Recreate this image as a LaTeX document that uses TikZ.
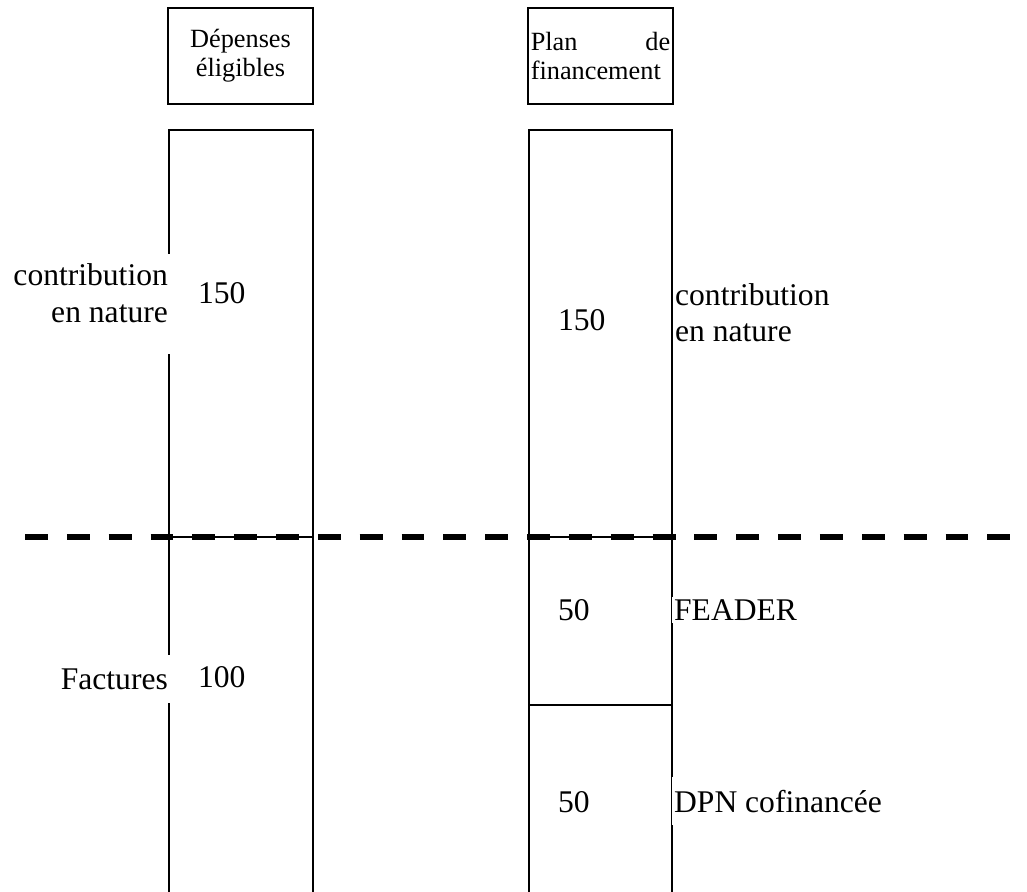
\documentclass[tikz,border=0pt]{standalone}
\usepackage{fontspec}
\setmainfont{Liberation Serif}

\begin{document}
\begin{tikzpicture}[x=0.38pt,y=-0.38pt,
  colline/.style={line width=0.8pt},
  sepline/.style={line width=0.6pt},
  headbox/.style={draw,line width=0.5pt,minimum width=55.1pt,minimum height=36.5pt,
    text width=53pt,inner xsep=1pt,font=\fontsize{10}{11}\selectfont},
  txt/.style={font=\fontsize{12}{14}\selectfont,inner sep=1pt},
  gap/.style={txt,fill=white}]
\useasboundingbox (0,0) rectangle (1027,892);

% header boxes
\node[headbox,align=center] (hdep) at (240.5,56) {Dépenses\\éligibles};
\node[headbox,align=left] (hplan) at (600.5,56) {Plan\hfill de\\financement};

% columns
\draw[colline] (169,892)--(169,130)--(313,130)--(313,892);
\draw[colline] (529,892)--(529,130)--(672,130)--(672,892);
\draw[sepline] (169,537)--(313,537);
\draw[sepline] (529,537)--(672,537);
\draw[sepline] (529,705)--(672,705);

% limit line
\coordinate (limL) at (25,537);
\coordinate (limR) at (1027,537);
\draw[line width=2.3pt,dash pattern=on 8.7pt off 7.2pt] (limL)--(limR);

% left column
\node[gap,align=right,anchor=north east,inner ysep=4pt,text depth=8pt] (lnat) at (171,253) {contribution\\en nature};
\node[txt,anchor=base west] (l150) at (195,303) {150};
\node[gap,anchor=east,inner ysep=5pt] (lfac) at (171,679) {Factures};
\node[txt,anchor=base west] (l100) at (195,687) {100};

% right column
\node[txt,anchor=base west] (r150) at (555,330) {150};
\node[txt,align=left,anchor=north west] (rnat) at (672,280) {contribution\\en nature};
\node[txt,anchor=base west] (r50a) at (555,620) {50};
\node[gap,anchor=base west] (rfeader) at (671,620) {FEADER};
\node[txt,anchor=base west] (r50b) at (555,812) {50};
\node[gap,anchor=base west,inner ysep=5pt] (rdpn) at (671,812) {DPN cofinancée};
\end{tikzpicture}
\end{document}
